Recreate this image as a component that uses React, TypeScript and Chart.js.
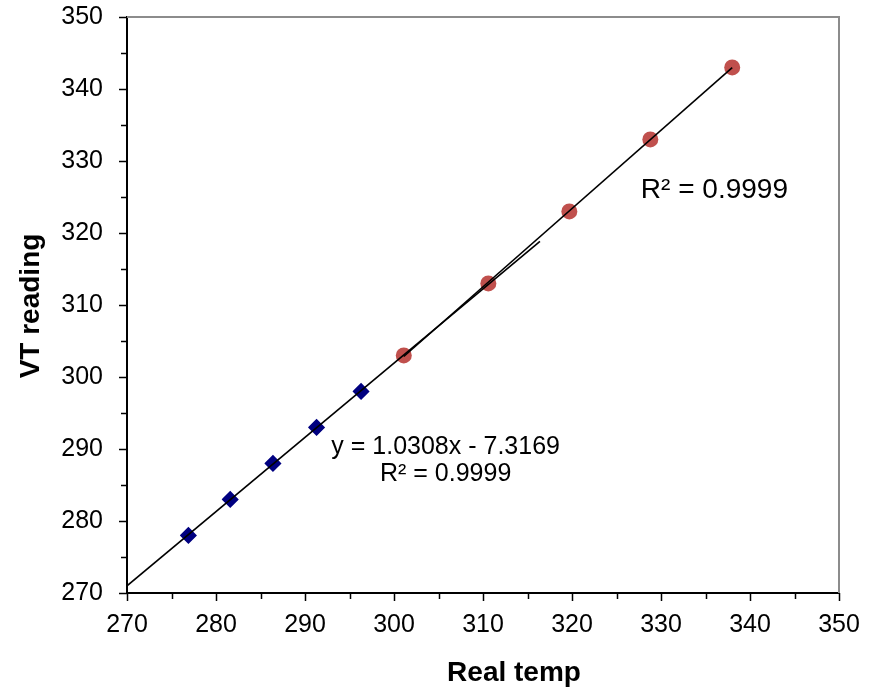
import React, { useEffect, useRef } from 'react';
import { Chart, registerables } from 'chart.js';
Chart.register(...registerables);

// ---- data ----
const blueX = [276.9, 281.6, 286.4, 291.3, 296.3];
const blueY = [278, 283, 288, 293, 298];
const redX = [301.1, 310.6, 319.7, 328.8, 338.0];
const redY = [303, 313, 323, 333, 343];

// trendline of the blue series (from its equation label)
const blueSlope = 1.0308;
const blueIntercept = -7.3169;
const blueTrendFrom = 270;
const blueTrendTo = 316.4;

const axisMin = 270;
const axisMax = 350;
const majorStep = 10;
const minorStep = 5;

const xTitle = 'Real temp';
const yTitle = 'VT reading';
const eqLabel = 'y = 1.0308x - 7.3169';
const blueR2Label = 'R² = 0.9999';
const redR2Label = 'R² = 0.9999';
// annotation anchors in data units
const eqAnchor = [305.8, 290.3];
const blueR2Anchor = [305.8, 286.5];
const redR2Anchor = [336.0, 326.0];

function linFit(xs: number[], ys: number[]) {
  const n = xs.length;
  const mx = xs.reduce((a, b) => a + b, 0) / n;
  const my = ys.reduce((a, b) => a + b, 0) / n;
  let sxx = 0, sxy = 0;
  for (let i = 0; i < n; i++) {
    sxx += (xs[i] - mx) ** 2;
    sxy += (xs[i] - mx) * (ys[i] - my);
  }
  const m = sxy / sxx;
  return { m, b: my - m * mx };
}

const FONT = "'Liberation Sans', Arial, sans-serif";

export default function App() {
  const ref = useRef<HTMLCanvasElement | null>(null);

  useEffect(() => {
    document.body.style.margin = '0';
    const canvas = ref.current;
    if (!canvas) return;
    const red = linFit(redX, redY);
    const redFrom = redX[0];
    const redTo = redX[redX.length - 1];

    const decor = {
      id: 'decor',
      afterDraw(chart: any) {
        const { ctx, chartArea: a, scales } = chart;
        const x = scales.x, y = scales.y;
        ctx.save();
        // top & right frame
        ctx.strokeStyle = '#8c8c8c';
        ctx.lineWidth = 2;
        ctx.beginPath();
        ctx.moveTo(a.left, a.top);
        ctx.lineTo(a.right, a.top);
        ctx.lineTo(a.right, a.bottom);
        ctx.stroke();
        // tick marks
        ctx.strokeStyle = '#000';
        ctx.lineWidth = 1.5;
        ctx.beginPath();
        for (let v = axisMin; v <= axisMax + 0.001; v += minorStep) {
          const major = Math.abs(v % majorStep) < 1e-6;
          const len = major ? 8 : 6;
          const px = Math.round(x.getPixelForValue(v)) + 0.5;
          ctx.moveTo(px, a.bottom);
          ctx.lineTo(px, a.bottom + len);
          const py = Math.round(y.getPixelForValue(v)) + 0.5;
          ctx.moveTo(a.left - len, py);
          ctx.lineTo(a.left, py);
        }
        ctx.stroke();
        // axis titles
        ctx.fillStyle = '#000';
        ctx.font = `bold 28px ${FONT}`;
        ctx.textAlign = 'center';
        ctx.textBaseline = 'middle';
        ctx.fillText(xTitle, (a.left + a.right) / 2 + 31, 673);
        ctx.save();
        ctx.translate(31, (a.top + a.bottom) / 2 + 1);
        ctx.rotate(-Math.PI / 2);
        ctx.fillText(yTitle, 0, 0);
        ctx.restore();
        // trendline labels
        ctx.font = `25px ${FONT}`;
        ctx.fillText(eqLabel, x.getPixelForValue(eqAnchor[0]), y.getPixelForValue(eqAnchor[1]));
        ctx.fillText(blueR2Label, x.getPixelForValue(blueR2Anchor[0]), y.getPixelForValue(blueR2Anchor[1]));
        ctx.font = `28px ${FONT}`;
        ctx.fillText(redR2Label, x.getPixelForValue(redR2Anchor[0]), y.getPixelForValue(redR2Anchor[1]));
        ctx.restore();
      },
    };

    const chart = new Chart(canvas, {
      type: 'scatter',
      data: {
        datasets: [
          {
            label: 'blue trend',
            data: [blueTrendFrom, blueTrendTo].map((v) => ({ x: v, y: blueSlope * v + blueIntercept })),
            showLine: true,
            borderColor: '#000',
            borderWidth: 1.6,
            pointRadius: 0,
          },
          {
            label: 'red trend',
            data: [redFrom, redTo].map((v) => ({ x: v, y: red.m * v + red.b })),
            showLine: true,
            borderColor: '#000',
            borderWidth: 1.6,
            pointRadius: 0,
          },
          {
            label: 'blue',
            data: blueX.map((v, i) => ({ x: v, y: blueY[i] })),
            pointStyle: 'rectRot',
            pointRadius: 7.5,
            backgroundColor: '#000080',
            borderColor: '#000080',
            borderWidth: 1.5,
          },
          {
            label: 'red',
            data: redX.map((v, i) => ({ x: v, y: redY[i] })),
            pointStyle: 'circle',
            pointRadius: 8,
            backgroundColor: '#C0504D',
            borderColor: '#C0504D',
            borderWidth: 0,
          },
        ],
      },
      options: {
        animation: false,
        responsive: false,
        devicePixelRatio: 1,
        layout: { padding: { top: 17, right: 42, left: 0, bottom: 0 } },
        plugins: { legend: { display: false }, tooltip: { enabled: false } },
        scales: {
          x: {
            type: 'linear',
            min: axisMin,
            max: axisMax,
            ticks: {
              stepSize: majorStep,
              padding: 17,
              color: '#000',
              font: { family: FONT, size: 25 },
              maxRotation: 0,
            },
            grid: { display: true, drawOnChartArea: false, drawTicks: false },
            border: { display: true, color: '#000', width: 2 },
            afterFit: (s: any) => { s.height = 97; s.paddingLeft = 0; s.paddingRight = 0; },
          },
          y: {
            type: 'linear',
            min: axisMin,
            max: axisMax,
            ticks: {
              stepSize: majorStep,
              padding: 24,
              color: '#000',
              font: { family: FONT, size: 25 },
            },
            grid: { display: true, drawOnChartArea: false, drawTicks: false },
            border: { display: true, color: '#000', width: 2 },
            afterFit: (s: any) => { s.width = 127; s.paddingTop = 0; s.paddingBottom = 0; },
          },
        },
      },
      plugins: [decor],
    });
    return () => chart.destroy();
  }, []);

  return <canvas ref={ref} width={881} height={690} style={{ display: 'block', width: 881, height: 690 }} />;
}
